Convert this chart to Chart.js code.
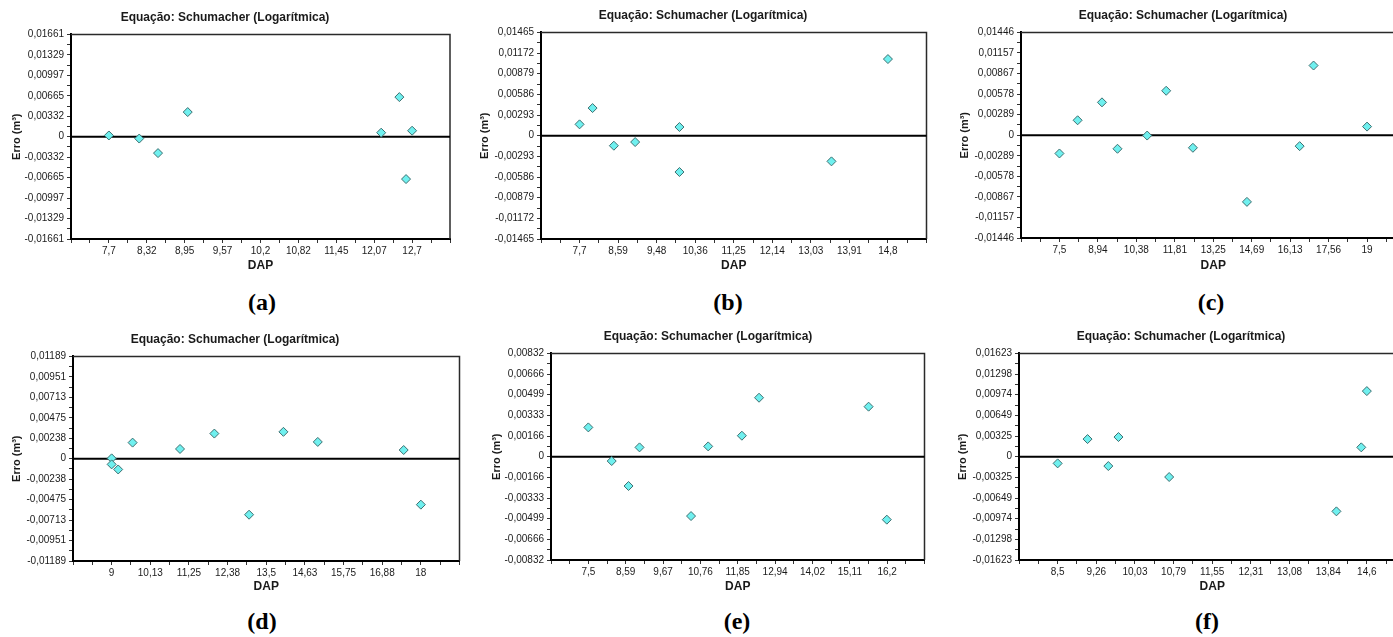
<!DOCTYPE html>
<html>
<head>
<meta charset="utf-8">
<script src="https://cdn.jsdelivr.net/npm/chart.js@4.4.1/dist/chart.umd.min.js"></script>
<style>
  html, body { margin: 0; background: #fff; overflow: hidden; }
  #page { position: relative; width: 1393px; height: 637px; overflow: hidden; background: #fff; }
  .cell { position: absolute; overflow: hidden; }
  .cell canvas { position: absolute; left: 0; top: 0; }
  .tag { position: absolute; font: bold 24px "Liberation Serif", "Times New Roman", serif; color: #000; transform: translate(-50%, -50%); }
</style>
</head>
<body>
<div id="page"></div>
<script>
// Six residual plots (Schumacher log model): Erro (m³) against DAP.

const chartTitle = "Equação: Schumacher (Logarítmica)";
const xAxisTitle = "DAP";
const yAxisTitle = "Erro (m³)";
const panelTags = ["(a)", "(b)", "(c)", "(d)", "(e)", "(f)"];

// labelled x ticks (DAP) of each panel
const xTicksA = [7.7, 8.32, 8.95, 9.57, 10.2, 10.82, 11.45, 12.07, 12.7];
const xTicksB = [7.7, 8.59, 9.48, 10.36, 11.25, 12.14, 13.03, 13.91, 14.8];
const xTicksC = [7.5, 8.94, 10.38, 11.81, 13.25, 14.69, 16.13, 17.56, 19];
const xTicksD = [9, 10.13, 11.25, 12.38, 13.5, 14.63, 15.75, 16.88, 18];
const xTicksE = [7.5, 8.59, 9.67, 10.76, 11.85, 12.94, 14.02, 15.11, 16.2];
const xTicksF = [8.5, 9.26, 10.03, 10.79, 11.55, 12.31, 13.08, 13.84, 14.6];

// positive half of the labelled y ticks (mirrored below zero)
const yTicksA = [0.00332, 0.00665, 0.00997, 0.01329, 0.01661];
const yTicksB = [0.00293, 0.00586, 0.00879, 0.01172, 0.01465];
const yTicksC = [0.00289, 0.00578, 0.00867, 0.01157, 0.01446];
const yTicksD = [0.00238, 0.00475, 0.00713, 0.00951, 0.01189];
const yTicksE = [0.00166, 0.00333, 0.00499, 0.00666, 0.00832];
const yTicksF = [0.00325, 0.00649, 0.00974, 0.01298, 0.01623];

// residual points
const dapA = [7.7, 8.2, 8.51, 9.0, 12.19, 12.49, 12.6, 12.7];
const erroA = [0.0002, -0.0003, -0.00266, 0.0040, 0.00065, 0.00643, -0.00688, 0.00097];

const dapB = [7.7, 8.0, 8.49, 8.98, 10.0, 10.0, 13.5, 14.8];
const erroB = [0.00161, 0.00392, -0.00142, -0.0009, 0.00123, -0.00515, -0.00364, 0.01087];

const dapC = [7.5, 8.18, 9.09, 9.67, 10.78, 11.49, 12.49, 14.51, 16.48, 17.0, 19.0];
const erroC = [-0.00257, 0.0021, 0.00462, -0.00191, -0.00005, 0.00625, -0.00177, -0.00938, -0.00154, 0.0098, 0.00121];

const dapD = [9.0, 9.0, 9.19, 9.61, 10.99, 11.99, 13.0, 14.0, 15.0, 17.5, 18.0];
const erroD = [0.00004, -0.00066, -0.00125, 0.00187, 0.00113, 0.00292, -0.00651, 0.00312, 0.00195, 0.00101, -0.00534];

const dapE = [7.5, 8.18, 8.67, 8.99, 10.49, 10.99, 11.97, 12.47, 15.66, 16.19];
const erroE = [0.00236, -0.00035, -0.00236, 0.00075, -0.00478, 0.00083, 0.00169, 0.00475, 0.00403, -0.00507];

const dapF = [8.5, 9.09, 9.5, 9.7, 10.7, 14.0, 14.49, 14.6];
const erroF = [-0.00105, 0.00277, -0.00147, 0.00309, -0.00319, -0.00859, 0.00147, 0.01031];

const panels = [
  { xTicks: xTicksA, yTicks: yTicksA, dap: dapA, erro: erroA },
  { xTicks: xTicksB, yTicks: yTicksB, dap: dapB, erro: erroB },
  { xTicks: xTicksC, yTicks: yTicksC, dap: dapC, erro: erroC },
  { xTicks: xTicksD, yTicks: yTicksD, dap: dapD, erro: erroD },
  { xTicks: xTicksE, yTicks: yTicksE, dap: dapE, erro: erroE },
  { xTicks: xTicksF, yTicks: yTicksF, dap: dapF, erro: erroF },
];

// where each canvas sits on the page and how its plot box is cut.
// c and f are wider than what is left of the page; their cell clips them,
// the way the original figure is cropped at the right.
const layouts = [
  { left: 0,   top: 0,   w: 465, h: 273, yW: 71, padR: 15, tTop: 10, tBot: 10, xH: 34, yTitlePad: 10, tagX: 262, tagY: 302 },
  { left: 476, top: 0,   w: 456, h: 273, yW: 65, padR: 2,  tTop: 8,  tBot: 10, xH: 34, yTitlePad: 2,  tagX: 728, tagY: 302 },
  { left: 957, top: 0,   w: 454, h: 273, yW: 64, padR: 2,  tTop: 8,  tBot: 10, xH: 35, yTitlePad: 1,  tagX: 1211, tagY: 302 },
  { left: 7,   top: 320, w: 458, h: 274, yW: 66, padR: 2,  tTop: 12, tBot: 10, xH: 33, yTitlePad: 3,  tagX: 262, tagY: 621 },
  { left: 488, top: 320, w: 442, h: 274, yW: 63, padR: 2,  tTop: 9,  tBot: 10, xH: 34, yTitlePad: 2,  tagX: 737, tagY: 621 },
  { left: 953, top: 320, w: 458, h: 274, yW: 66, padR: 2,  tTop: 9,  tBot: 10, xH: 34, yTitlePad: 3,  tagX: 1207, tagY: 621 },
];

const PAGE_W = 1393;

Chart.defaults.font.family = '"Liberation Sans", Arial, sans-serif';
Chart.defaults.color = "#1a1a1a";
Chart.defaults.animation = false;

const TEXT = "#1a1a1a";

function commaNum(v) {
  return String(v).replace(".", ",");
}

function yLabel(v) {
  if (v === 0) return "0";
  return (v < 0 ? "-" : "") + Math.abs(v).toFixed(5).replace(".", ",");
}

// top / right edges of the plot box and the zero reference line,
// taken from the scales themselves (left/bottom are the axis borders)
const framePlugin = {
  id: "frame",
  beforeDatasetsDraw(chart) {
    const { ctx } = chart;
    const x = chart.scales.x;
    const y = chart.scales.y;
    ctx.save();
    ctx.strokeStyle = "#2a2a2a";
    ctx.lineWidth = 1.5;
    ctx.beginPath();
    ctx.moveTo(x.left, y.top);
    ctx.lineTo(x.right, y.top);
    ctx.lineTo(x.right, y.bottom);
    ctx.stroke();

    const y0 = y.getPixelForValue(0);
    ctx.strokeStyle = "#000";
    ctx.lineWidth = 2;
    ctx.beginPath();
    ctx.moveTo(x.left, y0);
    ctx.lineTo(x.right, y0);
    ctx.stroke();
    ctx.restore();
  },
};

function makePanel(p, L, tag) {
  const page = document.getElementById("page");
  const cell = document.createElement("div");
  cell.className = "cell";
  cell.style.left = L.left + "px";
  cell.style.top = L.top + "px";
  cell.style.width = Math.min(L.w, PAGE_W - L.left) + "px";
  cell.style.height = L.h + "px";
  page.appendChild(cell);

  const canvas = document.createElement("canvas");
  canvas.width = L.w;
  canvas.height = L.h;
  canvas.style.width = L.w + "px";
  canvas.style.height = L.h + "px";
  cell.appendChild(canvas);

  const n = p.xTicks.length;
  const xStep = (p.xTicks[n - 1] - p.xTicks[0]) / (n - 1);
  const xMin = p.xTicks[0] - xStep;
  const xMax = p.xTicks[n - 1] + xStep;

  const yTop = p.yTicks[p.yTicks.length - 1];
  const yLabels = [...p.yTicks].reverse().map((v) => yLabel(-v)).concat(["0"], p.yTicks.map(yLabel));
  const yStep = yTop / p.yTicks.length;

  new Chart(canvas, {
    type: "scatter",
    data: {
      datasets: [
        {
          data: p.dap.map((x, i) => ({ x, y: p.erro[i] })),
          pointStyle: "rectRot",
          radius: 4.5,
          backgroundColor: "#6ff0ef",
          borderColor: "#3d6f70",
          borderWidth: 1,
          clip: false,
        },
      ],
    },
    options: {
      responsive: false,
      devicePixelRatio: 1,
      layout: { padding: { left: 0, top: 0, right: L.padR, bottom: 0 } },
      plugins: {
        legend: { display: false },
        tooltip: { enabled: false },
        title: {
          display: true,
          text: chartTitle,
          color: TEXT,
          font: { size: 12, weight: "bold" },
          padding: { top: L.tTop, bottom: L.tBot },
        },
      },
      scales: {
        x: {
          type: "linear",
          min: xMin,
          max: xMax,
          afterFit: (s) => {
            s.height = L.xH;
            s.paddingRight = 0;
          },
          afterBuildTicks: (s) => {
            const t = [];
            for (let i = 0; i <= 2 * (n + 1); i++) t.push({ value: xMin + (i * xStep) / 2 });
            s.ticks = t;
          },
          ticks: {
            autoSkip: false,
            maxRotation: 0,
            padding: 2,
            color: TEXT,
            font: { size: 10 },
            callback: (v, i) => {
              if (i % 2) return "";
              const k = i / 2;
              return k >= 1 && k <= n ? commaNum(p.xTicks[k - 1]) : "";
            },
          },
          grid: { drawOnChartArea: false, tickLength: 4, tickColor: "#333", tickWidth: 1 },
          border: { color: "#000", width: 2 },
          title: { display: true, text: xAxisTitle, color: TEXT, font: { size: 12, weight: "bold" }, padding: 0 },
        },
        y: {
          type: "linear",
          min: -yTop,
          max: yTop,
          afterFit: (s) => { s.width = L.yW; },
          afterBuildTicks: (s) => {
            const t = [];
            for (let i = 0; i <= 4 * p.yTicks.length; i++) t.push({ value: -yTop + (i * yStep) / 2 });
            s.ticks = t;
          },
          ticks: {
            autoSkip: false,
            padding: 3,
            color: TEXT,
            font: { size: 10 },
            callback: (v, i) => (i % 2 ? "" : yLabels[i / 2]),
          },
          grid: { drawOnChartArea: false, tickLength: 4, tickColor: "#333", tickWidth: 1 },
          border: { color: "#000", width: 2 },
          title: { display: true, text: yAxisTitle, color: TEXT, font: { size: 11, weight: "bold" }, padding: { top: L.yTitlePad, bottom: 0 } },
        },
      },
    },
    plugins: [framePlugin],
  });

  const t = document.createElement("div");
  t.className = "tag";
  t.textContent = tag;
  t.style.left = L.tagX + "px";
  t.style.top = L.tagY + "px";
  page.appendChild(t);
}

panels.forEach((p, i) => makePanel(p, layouts[i], panelTags[i]));
</script>
</body>
</html>
